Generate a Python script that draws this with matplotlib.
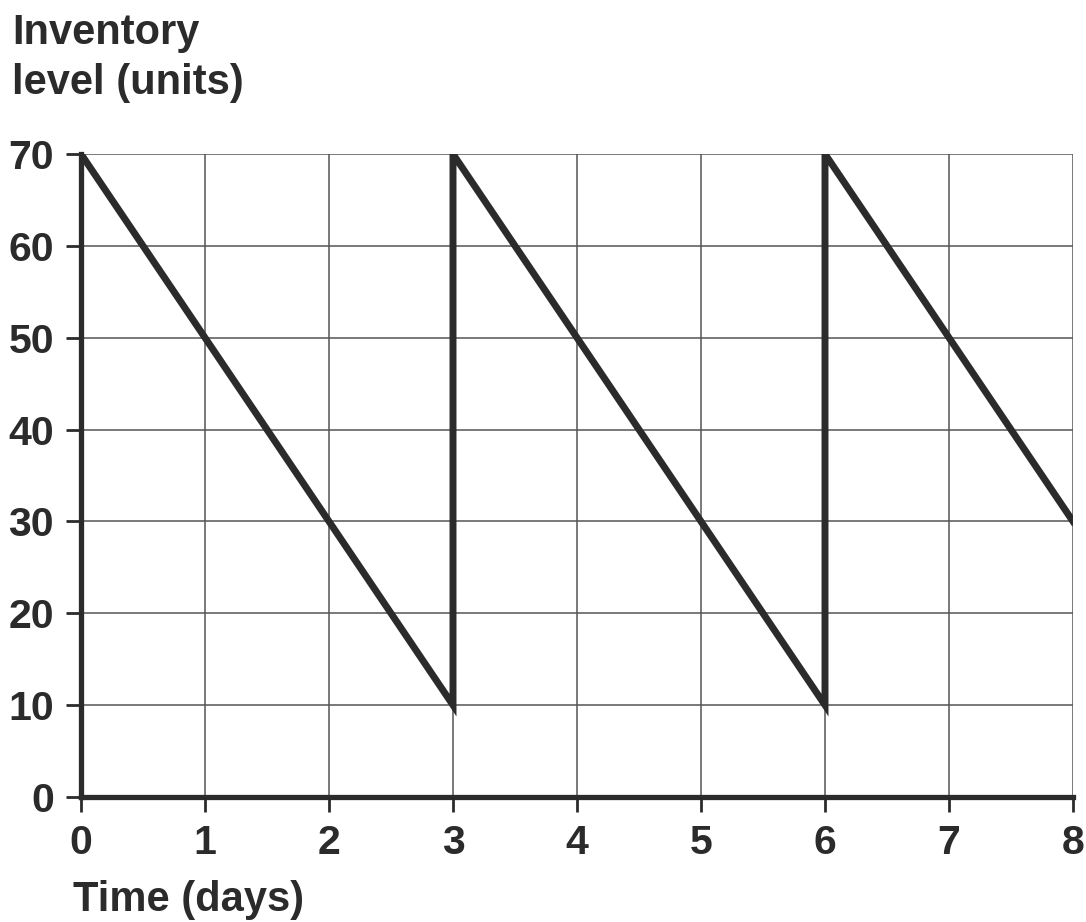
import matplotlib.pyplot as plt
import numpy as np

plt.rcParams['font.family'] = ['Liberation Sans', 'DejaVu Sans']
plt.rcParams['font.weight'] = 'bold'

# sawtooth inventory profile
days = [0, 3, 3, 6, 6, 8]
units = [70, 10, 70, 10, 70, 30]
x_ticks = [0, 1, 2, 3, 4, 5, 6, 7, 8]
y_ticks = [0, 10, 20, 30, 40, 50, 60, 70]

fig = plt.figure(figsize=(10.86, 9.22), dpi=100)
ax = fig.add_axes([81/1086, 1 - 797/922, (1073 - 81)/1086, (797 - 154)/922])

ax.plot(days, units, color='#2b2b2b', linewidth=5, solid_joinstyle='miter', zorder=3)

ax.set_xlim(0, 8)
ax.set_ylim(0, 70)
ax.set_xticks(x_ticks)
ax.set_yticks(y_ticks)
ax.grid(True, color='#555555', linewidth=1.1)
ax.set_axisbelow(True)

for s in ['top', 'right']:
    ax.spines[s].set_visible(False)
for s in ['left', 'bottom']:
    ax.spines[s].set_linewidth(3.8)
    ax.spines[s].set_color('#2b2b2b')
    ax.spines[s].set_zorder(4)

ax.tick_params(direction='out', length=11, width=2, color='#2b2b2b',
               labelsize=29.5, labelcolor='#2b2b2b', pad=8.5)
for lbl in ax.get_xticklabels() + ax.get_yticklabels():
    lbl.set_fontweight('bold')

fig.text(12/1086, 1 - 13/922, 'Inventory\nlevel (units)', fontsize=30, fontweight='bold',
         color='#2b2b2b', va='top', ha='left', linespacing=1.32)
fig.text(73/1086, 1 - 911/922, 'Time (days)', fontsize=30, fontweight='bold',
         color='#2b2b2b', va='baseline', ha='left')

fig.savefig('out.png', dpi=100)
